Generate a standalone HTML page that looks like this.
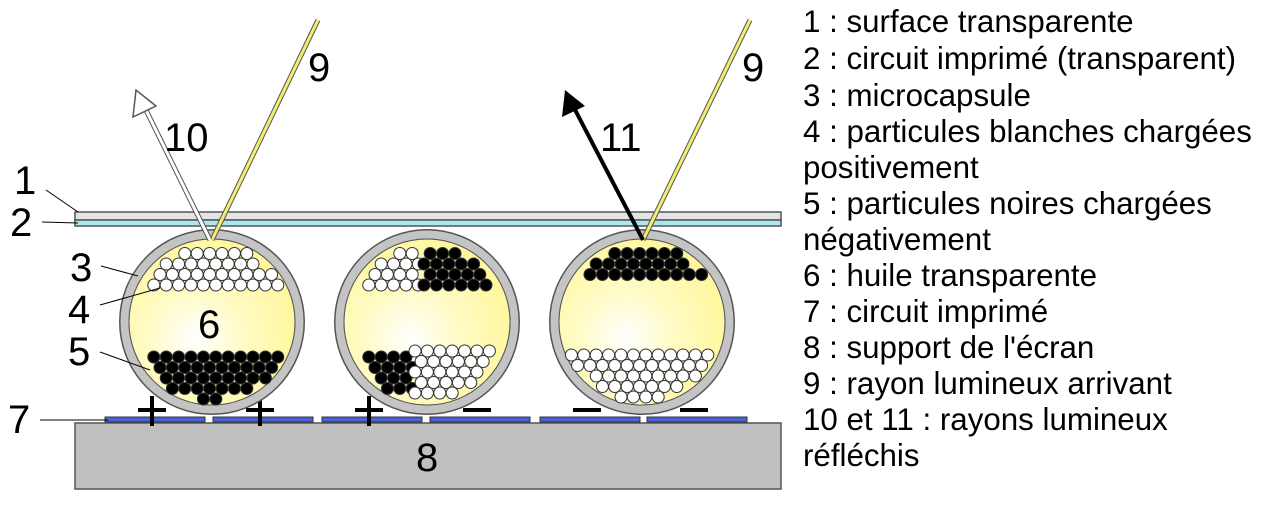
<!DOCTYPE html>
<html><head><meta charset="utf-8"><style>
html,body{margin:0;padding:0;background:#fff;width:1276px;height:509px;overflow:hidden}
svg{display:block}
text{font-family:"Liberation Sans",sans-serif;fill:#000}
</style></head><body>
<svg id="s" width="1276" height="509" viewBox="0 0 1276 509">
<defs>
<radialGradient id="oil" cx="0.4" cy="0.6" r="0.6">
<stop offset="0" stop-color="#ffffff"/><stop offset="0.5" stop-color="#fffbc4"/><stop offset="1" stop-color="#fff7a0"/>
</radialGradient>
</defs>
<g>
<rect x="75" y="423" width="706" height="66" fill="#c0c0c0" stroke="#555" stroke-width="1.5"/>
</g>
<g id="elec"></g>
<g>
<rect x="75" y="212" width="706" height="8" fill="#e4e4e4" stroke="#555" stroke-width="1.5"/>
<rect x="75" y="220" width="706" height="6" fill="#a8e8ee" stroke="#555" stroke-width="1.5"/>
</g>
<g id="caps"></g>
<g id="rays"></g>
<g stroke="#000" stroke-width="1">
<line x1="46" y1="190" x2="78" y2="212"/><line x1="42" y1="222" x2="78" y2="223"/>
<line x1="101" y1="266" x2="138" y2="276"/><line x1="100" y1="305" x2="160" y2="288"/>
<line x1="100" y1="352" x2="150" y2="370"/><line x1="40" y1="420" x2="108" y2="420"/>
</g>
<g font-size="40">
<text x="14" y="194">1</text><text x="10" y="236">2</text>
<text x="70" y="281">3</text><text x="68" y="323">4</text><text x="68" y="365">5</text>
<text x="198" y="338">6</text><text x="8" y="433">7</text><text x="416" y="471">8</text>
<text x="308" y="81">9</text><text x="742" y="81">9</text>
<text x="164" y="151">10</text><text x="600" y="151">11</text>
</g>
<g font-size="31.3">
<text x="803" y="32">1 : surface transparente</text>
<text x="803" y="69">2 : circuit imprimé (transparent)</text>
<text x="803" y="106">3 : microcapsule</text>
<text x="803" y="142">4 : particules blanches chargées</text>
<text x="803" y="178">positivement</text>
<text x="803" y="214">5 : particules noires chargées</text>
<text x="803" y="250">négativement</text>
<text x="803" y="286">6 : huile transparente</text>
<text x="803" y="322">7 : circuit imprimé</text>
<text x="803" y="358">8 : support de l'écran</text>
<text x="803" y="394">9 : rayon lumineux arrivant</text>
<text x="803" y="430">10 et 11 : rayons lumineux</text>
<text x="803" y="466">réfléchis</text>
</g>
</svg>
<script>
const NS="http://www.w3.org/2000/svg";
function mk(t,a,p){const e=document.createElementNS(NS,t);for(const k in a)e.setAttribute(k,a[k]);p.appendChild(e);return e;}
const elec=document.getElementById('elec');
const segs=[105,213,322,430,540,647];
const signs=['+','+','+','-','-','-'];
segs.forEach((x,i)=>{
  const r=mk('rect',{x:x,y:417,width:100,height:5,fill:'#4a62d8',stroke:'#333','stroke-width':1},elec);
  
  
  const cx=x+47;
  mk('line',{x1:cx-14,y1:410,x2:cx+14,y2:410,stroke:'#000','stroke-width':4},elec);
  if(signs[i]=='+') mk('line',{x1:cx,y1:396,x2:cx,y2:426,stroke:'#000','stroke-width':4},elec);
});
const caps=document.getElementById('caps');
const cxs=[212,427,642], cy=322, R=92, RI=83;
const zones=[
 [[0,999,236,292,'w'],[0,999,350,414,'b']],
 [[0,-3,236,292,'w'],[-3,999,236,294,'b'],[0,-12,350,414,'b'],[-12,999,344,414,'w']],
 [[0,999,236,290,'b'],[0,999,348,414,'w']]
];
cxs.forEach((cx,ci)=>{
  const g=mk('g',{},caps);
  
  
  mk('circle',{cx:cx,cy:cy,r:R-4.5,fill:'none',stroke:'#555','stroke-width':11},g);
  mk('circle',{cx:cx,cy:cy,r:R-4.5,fill:'none',stroke:'#c4c4c4','stroke-width':8},g);
  mk('circle',{cx:cx,cy:cy,r:RI,fill:'url(#oil)',stroke:'#555','stroke-width':1},g);
  zones[ci].forEach(z=>{
    const x0=z[0]===0?cx-RI:cx+z[0], x1=z[1]===999?cx+RI:cx+z[1];
    let row=0;
    for(let y=z[2]+7;y<=z[3]-6;y+=10.5,row++){
      for(let x=x0+(row%2?6.2:0);x<=x1;x+=12.4){
        const dx=x-cx,dy=y-cy;
        if(Math.sqrt(dx*dx+dy*dy)>RI-4.5)continue;
        mk('circle',{cx:x.toFixed(1),cy:y.toFixed(1),r:6,fill:z[4]=='w'?'#fff':'#000',stroke:'#333','stroke-width':1},g);
      }
    }
  });
});
const rays=document.getElementById('rays');
function ray(x1,y1,x2,y2,name){
  const g=mk('g',{},rays);
  
  
  mk('line',{x1,y1,x2,y2,stroke:'#555','stroke-width':5},g);
  mk('line',{x1,y1,x2,y2,stroke:'#f4ee70','stroke-width':3},g);
}
ray(318,20,212,240,'incident-ray-left');
ray(750,20,643,240,'incident-ray-right');
(function(){
  const g=mk('g',{},rays);
  
  
  mk('line',{x1:210,y1:240,x2:143,y2:104,stroke:'#555','stroke-width':5},g);
  mk('line',{x1:210,y1:240,x2:143,y2:104,stroke:'#fff','stroke-width':3},g);
  mk('polygon',{points:'136,90 133,117 156,106',fill:'#fff',stroke:'#555','stroke-width':1.5},g);
})();
(function(){
  const g=mk('g',{},rays);
  
  
  mk('line',{x1:643,y1:240,x2:572,y2:104,stroke:'#000','stroke-width':4},g);
  mk('polygon',{points:'565,90 562,117 585,106',fill:'#000'},g);
})();
</script>
</body></html>
